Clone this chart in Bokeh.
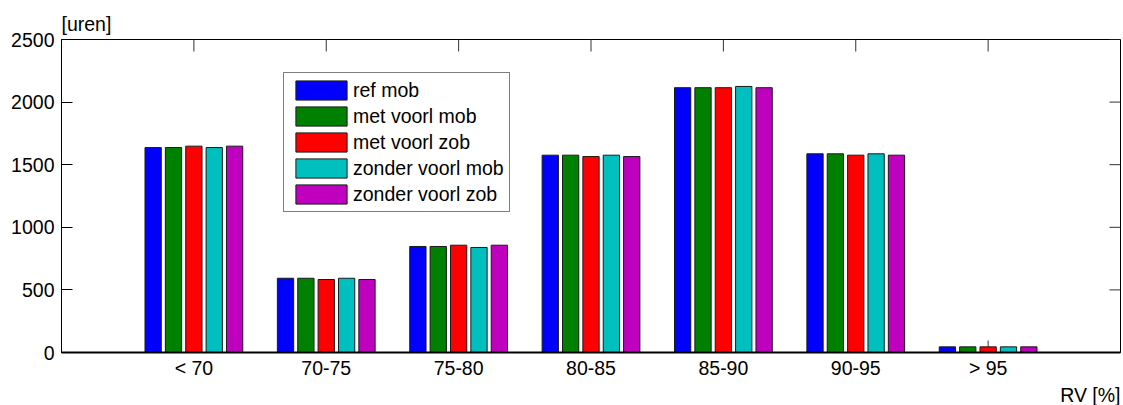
import math
from bokeh.plotting import figure
from bokeh.models import Range1d, FixedTicker, LinearAxis, Legend, LegendItem, Title
from bokeh.embed import file_html
from bokeh.resources import INLINE

# ---- data ----
categories = ["< 70", "70-75", "75-80", "80-85", "85-90", "90-95", "> 95"]
series_names = ["ref mob", "met voorl mob", "met voorl zob", "zonder voorl mob", "zonder voorl zob"]
ref_mob = [1637, 593, 847, 1576, 2115, 1587, 45]
met_voorl_mob = [1637, 593, 847, 1576, 2115, 1587, 45]
met_voorl_zob = [1648, 583, 857, 1565, 2115, 1576, 45]
zonder_voorl_mob = [1637, 593, 839, 1576, 2125, 1587, 45]
zonder_voorl_zob = [1648, 583, 857, 1565, 2115, 1576, 45]
y_ticks = [0, 500, 1000, 1500, 2000, 2500]
y_label = "[uren]"
x_label = "RV [%]"

series = [ref_mob, met_voorl_mob, met_voorl_zob, zonder_voorl_mob, zonder_voorl_zob]
colors = ["#0000ff", "#008000", "#ff0000", "#00bfbf", "#bf00bf"]

FONT = "Liberation Sans"
FS = "19.5px"

n = len(series)
group_width = min(0.8, n / (n + 1.5))
pitch = group_width / n
bar_w = 0.8 * pitch
cat_pos = [i + 1 for i in range(len(categories))]
x_end = len(categories) + 1
y_end = y_ticks[-1]

p = figure(width=1123, height=405, output_backend="svg", toolbar_location=None,
           x_range=Range1d(0, x_end), y_range=Range1d(0, y_end),
           min_border_left=61, min_border_right=3, min_border_top=39, min_border_bottom=53,
           x_axis_location=None, y_axis_location=None)
p.xgrid.visible = False
p.ygrid.visible = False
p.outline_line_color = "black"
p.outline_line_width = 1
p.background_fill_color = "white"
p.border_fill_color = "white"

# inward ticks: bottom (under the bars), top and right
tick_col = "#333333"
p.ray(x=cat_pos, y=[0] * len(cat_pos), length=12, length_units="screen",
      angle=math.pi / 2, line_color=tick_col, line_width=1)
p.ray(x=cat_pos, y=[y_end] * len(cat_pos), length=12, length_units="screen",
      angle=-math.pi / 2, line_color=tick_col, line_width=1)
p.ray(x=[x_end] * len(y_ticks), y=y_ticks, length=11, length_units="screen",
      angle=math.pi, line_color=tick_col, line_width=1)

renderers = []
for j, (vals, col) in enumerate(zip(series, colors)):
    xs = [c + (j - (n - 1) / 2) * pitch for c in cat_pos]
    r = p.vbar(x=xs, top=vals, bottom=0, width=bar_w, fill_color=col,
               line_color="#1a1a1a", line_width=1)
    renderers.append(r)

# axes
left = LinearAxis(ticker=FixedTicker(ticks=y_ticks))
left.major_tick_in = 11
left.major_tick_out = 0
left.minor_tick_line_color = None
left.major_label_standoff = 7
left.major_label_text_font = FONT
left.major_label_text_font_size = FS
left.major_label_text_color = "black"
left.axis_line_color = "black"
p.add_layout(left, "left")

below = LinearAxis(ticker=FixedTicker(ticks=cat_pos),
                   major_label_overrides={c: lab for c, lab in zip(cat_pos, categories)})
below.major_tick_in = 0
below.major_tick_out = 0
below.minor_tick_line_color = None
below.major_label_standoff = 4
below.major_label_text_font = FONT
below.major_label_text_font_size = FS
below.major_label_text_color = "black"
below.axis_line_color = "black"
below.axis_line_width = 2
p.add_layout(below, "below")

# texts
p.add_layout(Title(text=y_label, align="left", text_font=FONT, text_font_size=FS,
                   text_font_style="normal", text_color="black", standoff=10), "above")
p.add_layout(Title(text=x_label, align="right", text_font=FONT, text_font_size=FS,
                   text_font_style="normal", text_color="black", standoff=0), "below")

legend = Legend(items=[LegendItem(label=nm, renderers=[r]) for nm, r in zip(series_names, renderers)],
                location=(222, 140))
legend.border_line_color = "black"
legend.border_line_width = 1
legend.background_fill_color = "white"
legend.background_fill_alpha = 1
legend.glyph_width = 64
legend.glyph_height = 24
legend.label_height = 24
legend.spacing = 2
legend.padding = 5
legend.margin = 0
legend.label_standoff = 0
legend.label_text_font = FONT
legend.label_text_font_size = FS
legend.label_text_color = "black"
p.add_layout(legend, "center")

open("out.html", "w").write(file_html(p, INLINE))
